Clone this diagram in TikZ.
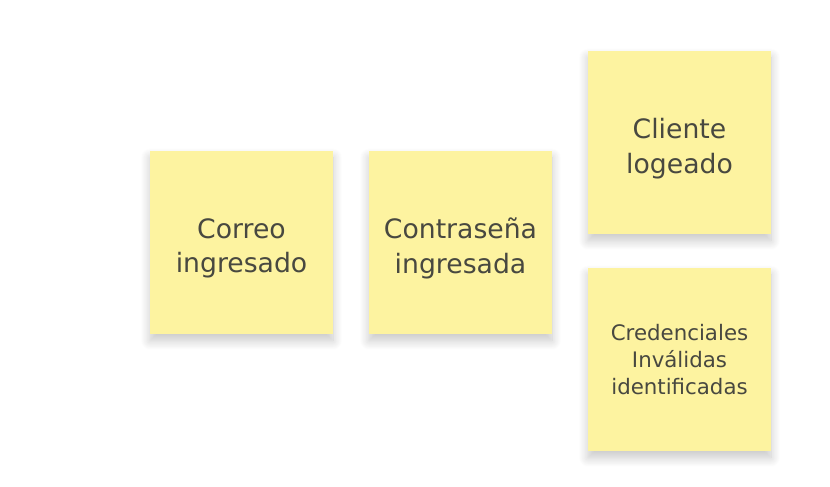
\documentclass[tikz,border=0pt]{standalone}
\usepackage{fontspec}
\setmainfont{DejaVu Sans}
\usepackage{xcolor}
\usetikzlibrary{shadows.blur}
\definecolor{notefill}{RGB}{253,243,160}
\definecolor{notetext}{RGB}{72,72,64}

\tikzset{
    sticky/.style={fill=notefill, minimum width=137.25pt, minimum height=137.25pt,
        inner sep=0pt, align=center, text=notetext,
        blur shadow={shadow xshift=0pt, shadow yshift=-5pt, shadow opacity=22, shadow blur radius=7pt, shadow blur steps=12}},
    bigtext/.style={font=\fontsize{20}{26}\selectfont, text=notetext, align=center, yshift=-4.5pt},
    smalltext/.style={font=\fontsize{16}{20}\selectfont, text=notetext, align=center}
}

\begin{document}
\begin{tikzpicture}[x=0.75pt, y=-0.75pt]
    % canvas
    \useasboundingbox (0,0) rectangle (830,486);

    % events of the login flow
    \node[sticky, label={[bigtext]center:Correo\\ingresado}] (correo) at (241.5,242.5) {};
    \node[sticky, label={[bigtext]center:Contraseña\\ingresada}] (contrasena) at (460.5,242.5) {};
    \node[sticky, label={[bigtext]center:Cliente\\logeado}] (logeado) at (679.5,142.5) {};
    \node[sticky, label={[smalltext]center:Credenciales\\Inválidas\\identificadas}] (invalidas) at (679.5,359.5) {};
\end{tikzpicture}
\end{document}
